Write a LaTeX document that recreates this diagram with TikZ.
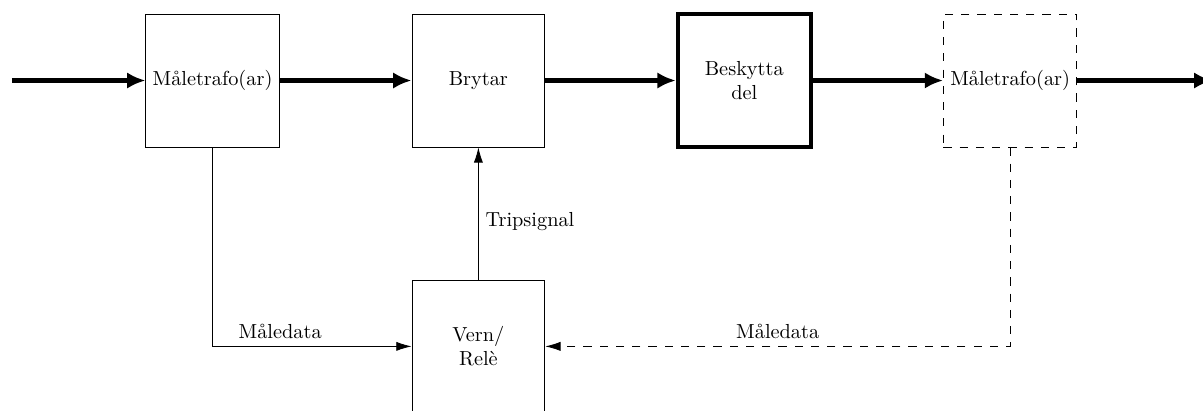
\documentclass[tikz,border=0pt]{standalone}
\usepackage{fontspec}
\usepackage{tikz}
\usetikzlibrary{arrows.meta}

\begin{document}
\begin{tikzpicture}[
	blokk/.style={draw, minimum width=2.3cm, minimum height=2.3cm, align=center},
	kraft/.style={line width=2pt, -{Latex[length=9pt,width=8pt]}},
	signal/.style={-{Latex[length=7.5pt,width=4.5pt]}},
	stiplet/.style={dash pattern=on 4pt off 4pt}
]
\clip (-3.677,-5.701) rectangle (17.137,1.393);

\node[blokk] (trafoA) at (0,0) {Måletrafo(ar)};
\node[blokk] (bryter) at (4.6,0) {Brytar};
\node[blokk, line width=2pt] (del) at (9.2,0) {Beskytta\\del};
\node[blokk, stiplet] (trafoB) at (13.8,0) {Måletrafo(ar)};
\node[blokk] (rele) at (4.6,-4.6) {Vern/\\Relè};

\coordinate (inn) at (-3.47,0);
\coordinate (ut) at (17.3,0);

\draw[kraft] (inn) -- (trafoA);
\draw[kraft] (trafoA) -- (bryter);
\draw[kraft] (bryter) -- (del);
\draw[kraft] (del) -- (trafoB);
\draw[kraft] (trafoB) -- (ut);

\draw[signal] (rele) -- node[pos=0.44, right] {Tripsignal} (bryter);
\draw[signal] (trafoA) |- node[pos=0.67, above] {Måledata} (rele);
\draw[signal, stiplet] (trafoB) |- node[pos=0.75, above] {Måledata} (rele);

\end{tikzpicture}
\end{document}
